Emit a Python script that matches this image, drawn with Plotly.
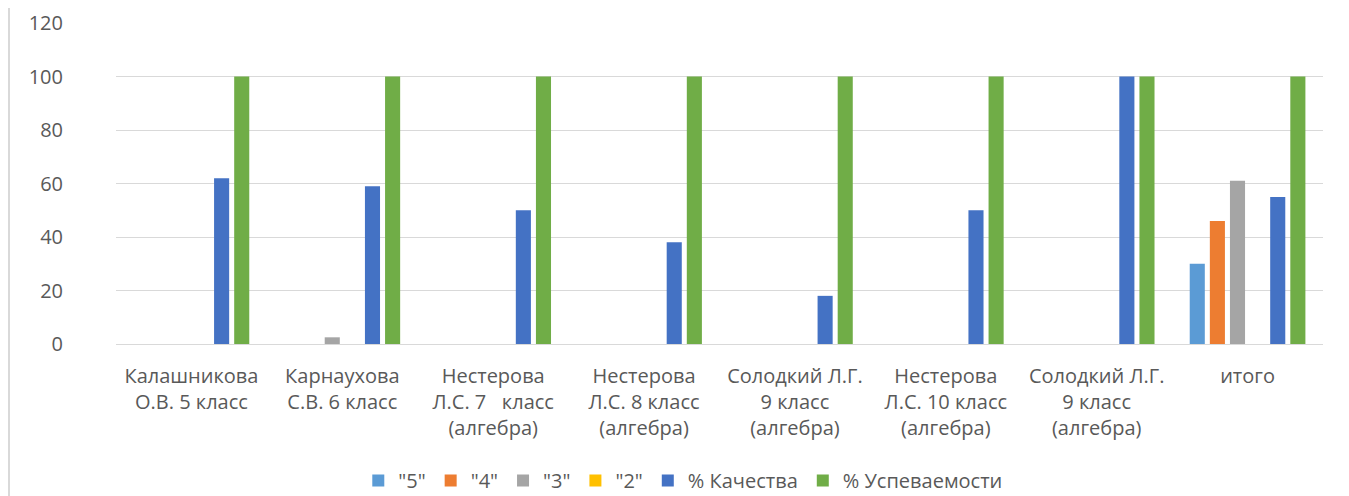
import plotly.graph_objects as go

categories = [
    "Калашникова<br>О.В. 5 класс",
    "Карнаухова<br>С.В. 6 класс",
    "Нестерова<br>Л.С. 7   класс<br>(алгебра)",
    "Нестерова<br>Л.С. 8 класс<br>(алгебра)",
    "Солодкий Л.Г.<br>9 класс<br>(алгебра)",
    "Нестерова<br>Л.С. 10 класс<br>(алгебра)",
    "Солодкий Л.Г.<br>9 класс<br>(алгебра)",
    "итого",
]
cat_ids = list(range(len(categories)))

grade5 = [0, 0, 0, 0, 0, 0, 0, 30]
grade4 = [0, 0, 0, 0, 0, 0, 0, 46]
grade3 = [0, 2.5, 0, 0, 0, 0, 0, 61]
grade2 = [0, 0, 0, 0, 0, 0, 0, 0]
quality = [62, 59, 50, 38, 18, 50, 100, 55]
success = [100, 100, 100, 100, 100, 100, 100, 100]

series = [
    ('"5"', grade5, "#5B9BD5"),
    ('"4"', grade4, "#ED7D31"),
    ('"3"', grade3, "#A5A5A5"),
    ('"2"', grade2, "#FFC000"),
    ("% Качества", quality, "#4472C4"),
    ("% Успеваемости", success, "#70AD47"),
]

fig = go.Figure()
for name, vals, color in series:
    fig.add_trace(go.Bar(x=cat_ids, y=vals, name=name, marker_color=color,
                         marker_line_width=0))

font = dict(family="Open Sans", size=20, color="#595959")

fig.update_layout(
    width=1349, height=496,
    margin=dict(l=108, r=34, t=15, b=160, autoexpand=False),
    paper_bgcolor="white", plot_bgcolor="white",
    barmode="group", bargap=0.2, bargroupgap=0.25,
    font=font,
    showlegend=True,
    legend=dict(orientation="h", x=0.47, xanchor="center", y=-0.425, yanchor="middle",
                font=font, itemwidth=30, traceorder="normal"),
    xaxis=dict(tickmode="array", tickvals=cat_ids, ticktext=categories,
               showgrid=False, zeroline=False, showline=False, ticks="",
               tickfont=font, range=[-0.5, 7.5], automargin=False,
               ticklabelstandoff=18),
    yaxis=dict(range=[0, 120], tickvals=[0, 20, 40, 60, 80, 100, 120],
               showgrid=True, gridcolor="#D9D9D9", gridwidth=1.3,
               zeroline=True, zerolinecolor="#D9D9D9", zerolinewidth=1.3,
               showline=False, ticks="", tickfont=font, ticklabelstandoff=52,
               automargin=False),
    shapes=[dict(type="line", xref="paper", yref="paper",
                 x0=-107 / 1207, x1=-107 / 1207, y0=-0.6, y1=1.1,
                 line=dict(color="#D9D9D9", width=2))],
)

fig.write_html("out.html")
